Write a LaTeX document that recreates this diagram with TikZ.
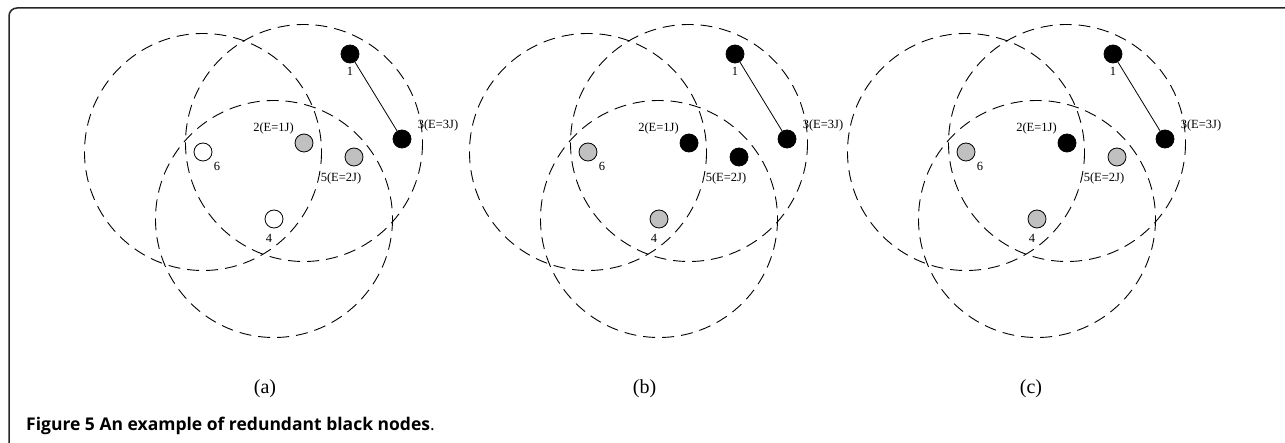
\documentclass[tikz,border=0pt]{standalone}
\usepackage{fontspec}
\setmainfont{Liberation Serif}
\newfontfamily\capfont{Open Sans}
\newcommand\drawpanel[6]{% #1 prefix, #2 x offset, #3 fill of 2, #4 fill of 5, #5 fill of 6, #6 fill of 4
\begin{scope}[shift={(#2,0)}]
  \draw[rangecircle] (203,152) circle[radius=118.5];
  \draw[rangecircle] (304,143) circle[radius=118.5];
  \draw[rangecircle] (274,219) circle[radius=118.5];
  \node[sensor, fill=black] (#1n1) at (350,54) {};
  \node[sensor, fill=black] (#1n3) at (402,139) {};
  \node[sensor, fill=#3] (#1n2) at (304,143) {};
  \node[sensor, fill=#4] (#1n5) at (354,157) {};
  \node[sensor, fill=#5] (#1n6) at (203,152) {};
  \node[sensor, fill=#6] (#1n4) at (274,219) {};
  \draw[sensorlink] (#1n1) -- (#1n3);
  \node[lbl] (#1l1) at (350,71) {1};
  \node[lbl] (#1l2) at (273.5,128.5) {2(E=1J)};
  \node[lbl] (#1l3) at (438,125) {3(E=3J)};
  \node[lbl] (#1l5) at (341,178.5) {5(E=2J)};
  \node[lbl] (#1l6) at (217,166) {6};
  \node[lbl] (#1l4) at (269,238) {4};
\end{scope}}
\begin{document}
\begin{tikzpicture}[x=1pt,y=-1pt,
  rangecircle/.style={draw, dash pattern=on 12pt off 7pt, line width=0.9pt},
  sensor/.style={circle, draw, line width=0.8pt, minimum size=18pt, inner sep=0pt},
  sensorlink/.style={line width=0.8pt},
  lbl/.style={font=\fontsize{12.5}{13}\selectfont, inner sep=0pt},
  sublbl/.style={font=\fontsize{20}{22}\selectfont, inner sep=0pt},
]
\useasboundingbox (0,0) rectangle (1285,443);
\begin{scope}
  \clip (0,0) rectangle (1285,443);
  \draw[line width=1.5pt, rounded corners=8pt, draw=black!85] (9,8) rectangle (1310,470);
\end{scope}
\definecolor{nodegray}{RGB}{192,192,192}
\drawpanel{a}{0}{nodegray}{nodegray}{white}{white}
\drawpanel{b}{385}{black}{black}{nodegray}{nodegray}
\drawpanel{c}{763}{black}{nodegray}{nodegray}{nodegray}
\node[sublbl] (pa) at (265,389) {(a)};
\node[sublbl] (pb) at (644.5,389) {(b)};
\node[sublbl] (pc) at (1031,389) {(c)};
\node[anchor=base west, inner sep=0pt, font=\capfont\fontsize{17.5}{20}\selectfont] (cap) at (26,430) {\textbf{Figure 5 An example of redundant black nodes}.};
\end{tikzpicture}
\end{document}
